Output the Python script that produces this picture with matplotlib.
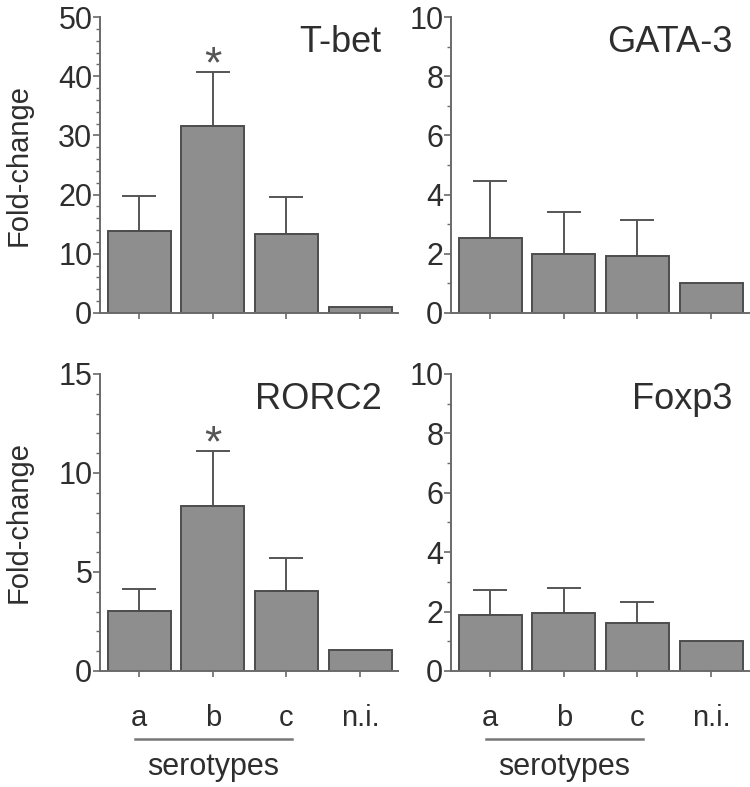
import matplotlib
matplotlib.use("Agg")
import matplotlib.pyplot as plt
from matplotlib.ticker import MultipleLocator
import matplotlib.transforms as mtransforms

plt.rcParams['font.family'] = ['Liberation Sans', 'DejaVu Sans']

categories = ['a', 'b', 'c', 'n.i.']

genes = ['T-bet', 'GATA-3', 'RORC2', 'Foxp3']

tbet_mean = [13.8, 31.6, 13.4, 1.0]
tbet_err = [5.9, 9.2, 6.2, 0.0]

gata3_mean = [2.55, 1.98, 1.93, 1.0]
gata3_err = [1.92, 1.42, 1.22, 0.0]

rorc2_mean = [3.04, 8.35, 4.03, 1.05]
rorc2_err = [1.08, 2.77, 1.69, 0.0]

foxp3_mean = [1.88, 1.94, 1.60, 1.0]
foxp3_err = [0.86, 0.84, 0.73, 0.0]

# y limits, major and minor steps per panel
ylims = [50, 10, 15, 10]
ymajor = [10, 2, 5, 2]
yminor = [2, 1, 1, 1]
significant = [True, False, True, False]

means = [tbet_mean, gata3_mean, rorc2_mean, foxp3_mean]
errs = [tbet_err, gata3_err, rorc2_err, foxp3_err]

BAR = '#8e8e8e'
EDGE = '#4d4d4d'
TXT = '#2e2e2e'
AX = '#6a6a6a'

fig = plt.figure(figsize=(7.5, 7.87), dpi=100)
positions = [
    [0.1333, 0.6023, 0.397, 0.3760],
    [0.6013, 0.6023, 0.397, 0.3760],
    [0.1333, 0.1474, 0.397, 0.3774],
    [0.6013, 0.1474, 0.397, 0.3774],
]

x = list(range(len(categories)))

for i in range(4):
    ax = fig.add_axes(positions[i])
    ax.bar(x, means[i], width=0.855, color=BAR, edgecolor=EDGE, linewidth=1.4, zorder=2)
    # only the upper half of the error bar
    ax.errorbar(x[:3], means[i][:3], yerr=[[0, 0, 0], errs[i][:3]], fmt='none',
                ecolor='#555555', elinewidth=1.4, capsize=12, capthick=1.4, zorder=1)
    ax.set_xlim(-0.53, 3.51)
    ax.set_ylim(0, ylims[i])
    ax.yaxis.set_major_locator(MultipleLocator(ymajor[i]))
    ax.yaxis.set_minor_locator(MultipleLocator(yminor[i]))
    ax.spines['top'].set_visible(False)
    ax.spines['right'].set_visible(False)
    for s in ['left', 'bottom']:
        ax.spines[s].set_color(AX)
        ax.spines[s].set_linewidth(1.4)
    ax.tick_params(axis='y', which='major', length=5, width=1.2, color=AX,
                   labelsize=22, labelcolor=TXT, pad=0.5)
    ax.tick_params(axis='y', which='minor', length=3, width=1.0, color=AX)
    ax.tick_params(axis='x', length=4, width=1.2, color=AX, labelsize=21,
                   labelcolor=TXT, pad=20)
    ax.set_xticks(x)
    if i >= 2:
        ax.set_xticklabels(categories)
        trans = mtransforms.blended_transform_factory(ax.transData, ax.transAxes)
        ax.plot([-0.05, 2.07], [-0.229, -0.229], color='#777777', lw=1.8,
                transform=trans, clip_on=False)
        ax.text(1.0, -0.322, 'serotypes', transform=trans, ha='center', va='center',
                fontsize=22, color=TXT)
    else:
        ax.set_xticklabels([])
    if i % 2 == 0:
        ax.set_ylabel('Fold-change', fontsize=21, color=TXT)
        ax.yaxis.set_label_coords(-0.225, 0.5)
    ax.text(0.946, 0.972, genes[i], transform=ax.transAxes, ha='right', va='top',
            fontsize=26, color=TXT)
    if significant[i]:
        top = means[i][1] + errs[i][1]
        ax.annotate('*', xy=(1, top), xytext=(0, -4), textcoords='offset points',
                    ha='center', va='baseline', fontsize=32, color='#555555')

fig.savefig('out.png', dpi=100)
